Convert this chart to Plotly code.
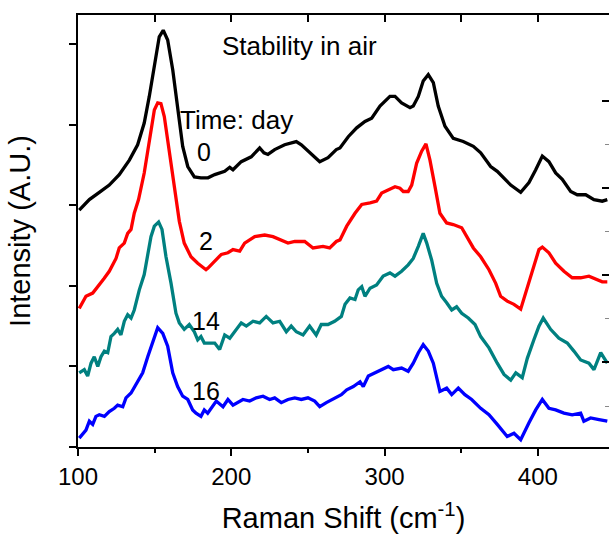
import plotly.graph_objects as go

# Raman shift (cm^-1) and intensity (arbitrary units, vertically offset) per storage time
shift_d0 = [100.8, 107.4, 113.9, 120.4, 126.9, 133.5, 138.9, 143.2, 146.5, 149.8, 153.0, 155.6, 158.5, 161.8,
            165.0, 168.3, 171.6, 175.9, 180.2, 184.8, 189.2, 193.5, 195.7, 199.0, 201.1, 206.5, 213.0, 218.5,
            221.3, 223.9, 228.3, 234.8, 242.4, 245.7, 250.0, 257.7, 263.1, 268.5, 270.9, 276.3, 281.8, 287.2,
            291.6, 297.0, 303.5, 306.8, 311.1, 316.6, 318.7, 322.0, 325.2, 328.5, 331.8, 335.0, 339.4, 344.8,
            351.3, 357.9, 362.7, 369.2, 373.5, 376.8, 382.3, 388.8, 394.2, 398.6, 402.9, 407.2, 411.6, 415.9,
            421.4, 425.7, 431.2, 436.6, 442.0, 445.3]
int_d0 = [2.94, 3.07, 3.16, 3.25, 3.38, 3.56, 3.75, 4.02, 4.35, 4.72, 5.09, 5.17, 5.05, 4.68,
          4.22, 3.73, 3.48, 3.35, 3.34, 3.34, 3.38, 3.40, 3.42, 3.47, 3.44, 3.54, 3.60, 3.71,
          3.65, 3.63, 3.69, 3.75, 3.79, 3.75, 3.67, 3.54, 3.59, 3.69, 3.71, 3.85, 3.96, 4.04,
          4.08, 4.23, 4.35, 4.35, 4.27, 4.21, 4.23, 4.35, 4.54, 4.62, 4.52, 4.23, 3.98, 3.83,
          3.79, 3.73, 3.65, 3.48, 3.42, 3.36, 3.25, 3.16, 3.28, 3.44, 3.61, 3.54, 3.40, 3.32,
          3.17, 3.13, 3.13, 3.07, 3.05, 3.07]

shift_d2 = [100.8, 105.2, 109.6, 113.9, 117.0, 120.4, 124.8, 126.9, 130.2, 132.4, 134.6, 136.7, 139.5, 143.2,
            146.5, 149.8, 152.0, 154.1, 156.3, 158.5, 161.8, 163.9, 166.1, 169.3, 173.7, 178.1, 183.5, 184.8,
            189.2, 193.5, 197.8, 201.1, 205.5, 208.7, 215.3, 221.8, 227.2, 232.6, 237.0, 241.4, 247.9, 253.3,
            259.8, 264.2, 268.5, 270.9, 275.3, 280.7, 285.1, 290.5, 294.8, 298.1, 302.4, 306.8, 310.0, 312.2,
            315.4, 317.7, 320.9, 324.2, 327.0, 329.6, 332.9, 336.1, 340.5, 344.8, 350.3, 354.6, 357.9, 362.7,
            368.1, 372.5, 375.7, 380.0, 384.4, 388.8, 392.0, 396.3, 400.7, 402.9, 407.2, 411.6, 417.0, 422.4,
            427.9, 433.3, 437.7, 442.0, 445.3]
int_d2 = [1.72, 1.87, 1.91, 2.01, 2.09, 2.18, 2.34, 2.47, 2.53, 2.65, 2.70, 2.90, 3.07, 3.40,
          3.81, 4.18, 4.27, 4.26, 4.10, 3.81, 3.40, 3.07, 2.80, 2.53, 2.36, 2.28, 2.20, 2.22,
          2.30, 2.39, 2.41, 2.45, 2.43, 2.53, 2.61, 2.63, 2.61, 2.57, 2.53, 2.55, 2.55, 2.47,
          2.49, 2.47, 2.55, 2.57, 2.74, 2.90, 3.01, 3.03, 3.05, 3.15, 3.19, 3.23, 3.21, 3.17,
          3.17, 3.25, 3.52, 3.67, 3.76, 3.56, 3.23, 2.90, 2.78, 2.76, 2.72, 2.57, 2.47, 2.36,
          2.20, 2.03, 1.87, 1.81, 1.77, 1.71, 1.91, 2.20, 2.45, 2.48, 2.41, 2.28, 2.18, 2.10,
          2.10, 2.12, 2.08, 2.05, 2.05]

shift_d14 = [100.8, 104.1, 106.3, 108.5, 110.6, 112.9, 115.0, 117.2, 119.4, 121.5, 123.7, 125.9, 128.0, 130.2,
             132.4, 134.6, 136.7, 140.0, 143.2, 145.5, 147.6, 149.8, 152.6, 154.8, 157.4, 160.7, 163.9, 166.1,
             169.3, 172.6, 175.9, 178.1, 180.2, 182.4, 185.6, 189.2, 192.4, 195.7, 199.0, 203.3, 206.5, 209.8,
             214.2, 218.5, 222.8, 227.2, 231.6, 235.9, 239.1, 242.4, 246.8, 251.1, 255.4, 258.7, 263.1, 267.4,
             271.8, 274.2, 277.4, 280.7, 282.8, 285.1, 287.2, 290.5, 294.8, 299.1, 303.5, 306.8, 311.1, 315.4,
             318.7, 322.0, 325.2, 327.5, 330.7, 334.0, 337.2, 340.5, 343.8, 347.0, 350.3, 354.6, 359.0, 362.7,
             368.1, 373.5, 377.9, 382.3, 385.6, 389.8, 393.1, 397.4, 400.7, 403.5, 408.3, 413.7, 419.2, 423.5,
             427.9, 433.3, 436.6, 441.0, 445.3]
int_d14 = [0.92, 0.96, 0.88, 1.04, 1.12, 1.00, 1.12, 1.19, 1.17, 1.37, 1.41, 1.46, 1.39, 1.56,
           1.64, 1.60, 1.70, 1.95, 2.14, 2.41, 2.61, 2.74, 2.79, 2.70, 2.36, 2.03, 1.66, 1.54,
           1.46, 1.52, 1.43, 1.33, 1.37, 1.29, 1.29, 1.29, 1.21, 1.39, 1.35, 1.46, 1.54, 1.50,
           1.56, 1.54, 1.62, 1.54, 1.56, 1.43, 1.50, 1.43, 1.39, 1.50, 1.39, 1.52, 1.52, 1.56,
           1.62, 1.77, 1.85, 1.83, 1.95, 1.99, 1.87, 1.97, 2.01, 2.12, 2.16, 2.12, 2.18, 2.26,
           2.34, 2.49, 2.65, 2.53, 2.32, 2.03, 1.87, 1.79, 1.70, 1.74, 1.66, 1.60, 1.52, 1.37,
           1.23, 1.04, 0.90, 0.83, 0.92, 0.86, 1.10, 1.33, 1.50, 1.60, 1.46, 1.35, 1.29, 1.19,
           1.08, 1.04, 0.96, 1.17, 1.04]

shift_d16 = [100.8, 103.1, 105.2, 107.4, 109.6, 111.7, 113.9, 117.2, 120.4, 123.7, 125.9, 129.2, 131.3, 134.6,
             137.8, 142.2, 145.5, 148.7, 152.0, 155.3, 158.5, 161.8, 165.0, 168.3, 171.6, 174.8, 177.0, 180.2,
             182.4, 184.6, 190.2, 194.6, 197.8, 201.1, 204.4, 207.6, 212.0, 216.3, 220.7, 225.0, 228.3, 232.6,
             237.0, 241.4, 245.7, 250.0, 254.4, 257.7, 262.0, 266.3, 271.8, 275.3, 279.6, 284.0, 286.1, 289.4,
             293.7, 298.1, 302.4, 305.7, 311.1, 315.4, 318.7, 322.0, 325.2, 328.5, 331.8, 336.1, 340.5, 343.8,
             348.1, 352.4, 356.8, 362.7, 368.1, 373.5, 380.0, 384.4, 388.8, 394.2, 398.6, 402.9, 407.2, 411.6,
             417.0, 422.4, 427.9, 430.0, 434.4, 439.9, 445.3]
int_d16 = [0.11, 0.17, 0.21, 0.32, 0.28, 0.38, 0.40, 0.38, 0.44, 0.48, 0.52, 0.50, 0.61, 0.67,
           0.77, 0.92, 1.12, 1.29, 1.48, 1.41, 1.25, 0.92, 0.75, 0.63, 0.59, 0.46, 0.42, 0.38,
           0.46, 0.42, 0.57, 0.50, 0.59, 0.52, 0.55, 0.59, 0.57, 0.61, 0.63, 0.59, 0.61, 0.55,
           0.59, 0.61, 0.59, 0.61, 0.57, 0.50, 0.55, 0.59, 0.65, 0.71, 0.75, 0.81, 0.75, 0.88,
           0.92, 0.96, 1.00, 0.96, 0.98, 0.94, 1.04, 1.17, 1.27, 1.19, 1.04, 0.69, 0.73, 0.65,
           0.73, 0.65, 0.59, 0.48, 0.40, 0.28, 0.13, 0.17, 0.09, 0.30, 0.46, 0.59, 0.48, 0.46,
           0.42, 0.40, 0.42, 0.32, 0.36, 0.34, 0.32]

series_labels = ["0", "2", "14", "16"]
series_colors = ["#000000", "#ff0000", "#008080", "#0000ff"]
label_x = [182.2, 183.8, 183.5, 183.5]
label_y = [3.66, 2.56, 1.56, 0.69]

x_range = [100, 446.4]
y_range = [0, 5.36]
left_ticks = [0, 1, 2, 3, 4, 5]
right_ticks = [1.06, 2.14, 3.21, 4.29]
right_minor = [0.50, 1.60, 2.67, 3.75]

FONT = "Liberation Sans, Arial, sans-serif"

fig = go.Figure()
for xs, ys, col, lab in zip([shift_d0, shift_d2, shift_d14, shift_d16],
                            [int_d0, int_d2, int_d14, int_d16], series_colors, series_labels):
    fig.add_trace(go.Scatter(x=xs, y=ys, mode="lines", line=dict(color=col, width=3.3),
                             name=lab, showlegend=False, hoverinfo="skip"))

# helper trace to bring up the top/right frame axes
fig.add_trace(go.Scatter(x=[None], y=[None], xaxis="x2", yaxis="y2", showlegend=False, hoverinfo="skip"))

annotations = [
    dict(x=244.8, y=4.98, text="Stability in air", showarrow=False, font=dict(size=26, color="black", family=FONT)),
    dict(x=203.4, y=4.06, text="Time: day", showarrow=False, font=dict(size=26, color="black", family=FONT)),
]
for lab, lx, ly in zip(series_labels, label_x, label_y):
    annotations.append(dict(x=lx, y=ly, text=lab, showarrow=False,
                            font=dict(size=25, color="black", family=FONT)))

fig.update_layout(
    width=609, height=534,
    margin=dict(l=78, r=0, t=15, b=87),
    paper_bgcolor="white", plot_bgcolor="white",
    font=dict(family=FONT, color="black"),
    annotations=annotations,
    xaxis=dict(range=x_range, showline=True, linecolor="black", linewidth=1.5, mirror=False,
               ticks="outside", ticklen=7, tickwidth=1.5, tickcolor="black",
               tick0=100, dtick=100, showgrid=False, zeroline=False,
               tickfont=dict(size=24, family=FONT),
               minor=dict(ticks="outside", ticklen=4, tickwidth=1.5, tickcolor="black", dtick=50, tick0=100),
               title=dict(text="Raman Shift (cm<sup>-1</sup>)", font=dict(size=29, family=FONT), standoff=21)),
    xaxis2=dict(range=x_range, overlaying="x", side="top", anchor="y", showline=True, linecolor="black",
                linewidth=1.5, ticks="inside", ticklen=7, tickwidth=1.5, tickcolor="black",
                tick0=100, dtick=50, showticklabels=False, showgrid=False, zeroline=False),
    yaxis=dict(range=y_range, showline=True, linecolor="black", linewidth=1.5,
               ticks="outside", ticklen=7, tickwidth=1.5, tickcolor="black",
               tickvals=left_ticks, showticklabels=False, showgrid=False, zeroline=False,
               title=dict(text="Intensity (A.U.)", font=dict(size=29, family=FONT), standoff=30)),
    yaxis2=dict(range=y_range, overlaying="y", side="right", anchor="x", showline=False,
                ticks="inside", ticklen=7, tickwidth=1.5, tickcolor="black",
                tickvals=right_ticks, showticklabels=False, showgrid=False, zeroline=False,
                minor=dict(ticks="inside", ticklen=4, tickwidth=1, tickcolor="#888888", tickvals=right_minor)),
)

fig.write_html("out.html")
